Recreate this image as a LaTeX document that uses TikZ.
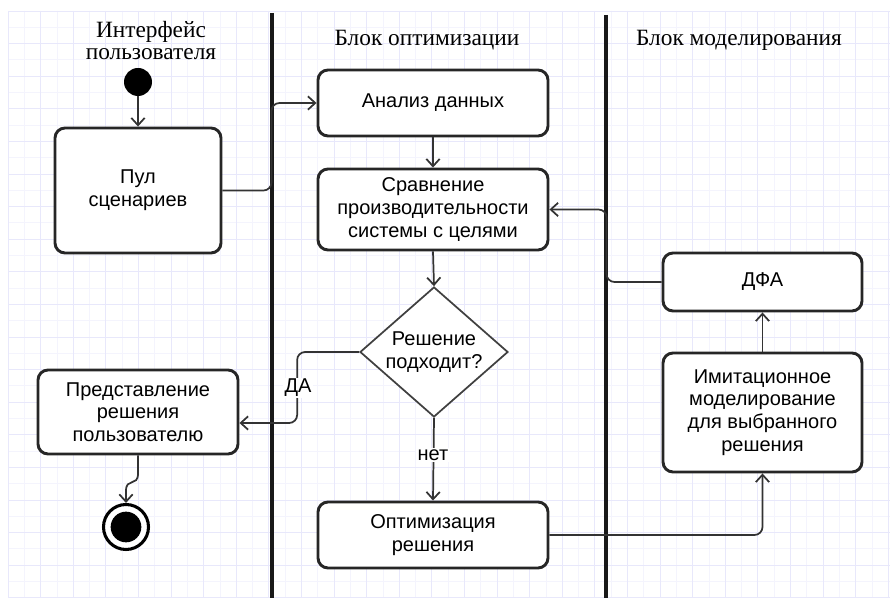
\documentclass[tikz,border=0pt]{standalone}
\usepackage{fontspec}
\setmainfont{Liberation Serif}
\newfontfamily\boxfont{Liberation Sans}
\usetikzlibrary{arrows.meta,shapes.geometric,calc}

\definecolor{gridminor}{RGB}{244,244,253}
\definecolor{gridmajor}{RGB}{232,232,251}

\begin{document}
\begin{tikzpicture}[x=0.75pt,y=-0.75pt,
  action/.style={draw=black!85, line width=2.2pt, rounded corners=7.5pt,
    fill=white, align=center, inner sep=0pt,
    font=\boxfont\fontsize{15}{17}\selectfont},
  decision/.style={diamond, draw=black!75, line width=1.3pt, fill=white,
    inner sep=0pt, minimum width=111pt, minimum height=97.5pt},
  conn/.style={draw=black!80, line width=1.3pt, rounded corners=6pt,
    -{Straight Barb[length=5.5pt,width=10pt]}},
  guard/.style={fill=white, inner sep=1pt,
    font=\boxfont\fontsize{15}{17}\selectfont},
  lanetitle/.style={align=center, font=\fontsize{17.5}{16.5}\selectfont},
  lane/.style={line width=2.3pt, black!90}
]
\useasboundingbox (0,0) rectangle (890,598);
\fill[white] (0,0) rectangle (890,598);

% background grid
\foreach \i in {1,3,...,53} {
  \pgfmathsetmacro{\gx}{8+16.3*\i}
  \draw[gridminor, line width=0.6pt] (\gx,11) -- (\gx,598);
}
\foreach \j in {1,3,...,35} {
  \pgfmathsetmacro{\gy}{11+16.3*\j}
  \draw[gridminor, line width=0.6pt] (8,\gy) -- (890,\gy);
}
\foreach \i in {0,2,...,54} {
  \pgfmathsetmacro{\gx}{8+16.3*\i}
  \draw[gridmajor, line width=0.6pt] (\gx,11) -- (\gx,598);
}
\foreach \j in {0,2,...,36} {
  \pgfmathsetmacro{\gy}{11+16.3*\j}
  \draw[gridmajor, line width=0.6pt] (8,\gy) -- (890,\gy);
}

% swimlane separators
\draw[lane] (272,13) -- (272,598);
\draw[lane] (606,15) -- (606,598);

% lane titles
\node[lanetitle] (t1) at (151,41) {Интерфейс\\пользователя};
\node[lanetitle] (t2) at (427,40) {Блок оптимизации};
\node[lanetitle] (t3) at (739,40) {Блок моделирования};

% activity nodes
\node[circle, fill=black, minimum size=21pt, inner sep=0pt] (start) at (138,82) {};
\node[action, minimum width=124.5pt, minimum height=93.75pt] (pul) at (138,190.5) {Пул\\сценариев};
\node[action, minimum width=172.5pt, minimum height=49.5pt] (analiz) at (433,103) {Анализ данных};
\node[action, minimum width=172.5pt, minimum height=60.75pt] (sravn) at (433,209.5) {Сравнение\\производительности\\системы с целями};
\node[decision] (dec) at (434,352) {};
\node[font=\boxfont\fontsize{15}{17}\selectfont, align=center] (dectext) at (dec) {Решение\\подходит?};
\node[action, minimum width=150pt, minimum height=63pt] (pred) at (138,412) {Представление\\решения\\пользователю};
\node[action, minimum width=172.5pt, minimum height=49.5pt] (opt) at (433,535) {Оптимизация\\решения};
\node[action, minimum width=149.25pt, minimum height=89.25pt] (imit) at (762.5,412.5) {Имитационное\\моделирование\\для выбранного\\решения};
\node[action, minimum width=149.25pt, minimum height=43.5pt] (dfa) at (762.5,282) {ДФА};
\node[circle, draw=black, line width=2.3pt, fill=white, minimum size=33.75pt, inner sep=0pt] (end) at (126,527) {};
\node[circle, fill=black, minimum size=23pt, inner sep=0pt] (endcore) at (end) {};

% control flow
\draw[conn] (start) -- (pul.north);
\draw[conn] (pul.east) -- ++(49,0) |- (analiz.west);
\draw[conn] (analiz.south) -- (sravn.north);
\draw[conn] (sravn.south) -- (dec.north);
\draw[conn] (dec.west) -- ++(-62,0) |- ([yshift=-8.25pt]pred.east);
\node[guard] (yes) at (298,388) {ДА};
\draw[conn] (dec.south) -- (opt.north);
\node[guard] (no) at (433,455) {нет};
\draw[conn, rounded corners=0pt] (pred.south) -- ++(0,18)
  .. controls ++(0,14) and ++(0,-14) .. ([yshift=9pt]end.north) -- (end.north);
\draw[conn] (opt.east) -| (imit.south);
\draw[conn] (imit.north) -- (dfa.south);
\draw[conn] (dfa.west) -- ++(-55,0) |- (sravn.east);
\end{tikzpicture}
\end{document}
